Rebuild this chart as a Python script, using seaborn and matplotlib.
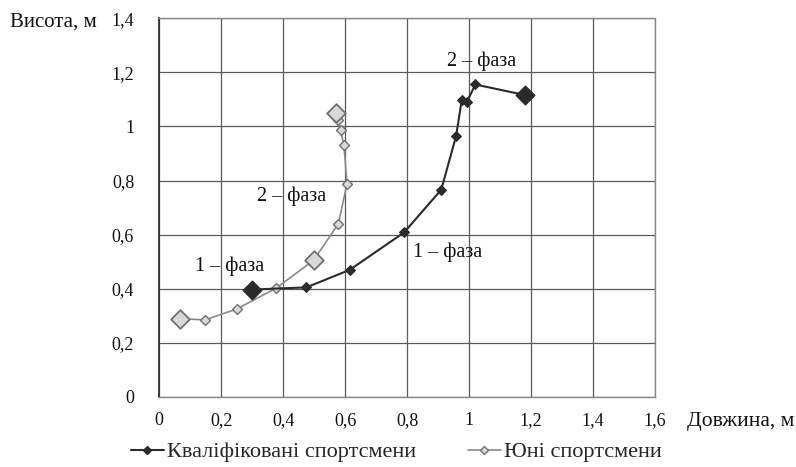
import matplotlib
matplotlib.use("Agg")
import matplotlib.pyplot as plt
import seaborn as sns
import pandas as pd
from matplotlib.lines import Line2D

# ---- data ----
qual_x = [0.30, 0.475, 0.615, 0.79, 0.91, 0.958, 0.976, 0.993, 1.02, 1.18]
qual_y = [0.397, 0.405, 0.47, 0.608, 0.766, 0.965, 1.097, 1.091, 1.155, 1.116]
qual_big = [0, 9]

young_x = [0.068, 0.148, 0.25, 0.377, 0.498, 0.578, 0.606, 0.596, 0.585, 0.578, 0.572]
young_y = [0.289, 0.285, 0.325, 0.402, 0.505, 0.64, 0.788, 0.93, 0.985, 1.025, 1.05]
young_big = [0, 4, 10]

x_ticks = [0, 0.2, 0.4, 0.6, 0.8, 1.0, 1.2, 1.4, 1.6]
x_labels = ["0", "0,2", "0,4", "0,6", "0,8", "1", "1,2", "1,4", "1,6"]
y_ticks = [0, 0.2, 0.4, 0.6, 0.8, 1.0, 1.2, 1.4]
y_labels = ["0", "0,2", "0,4", "0,6", "0,8", "1", "1,2", "1,4"]

series_names = ["Кваліфіковані спортсмени", "Юні спортсмени"]
annotations = [
    ("1 – фаза", 0.115, 0.483),
    ("2 – фаза", 0.315, 0.741),
    ("1 – фаза", 0.82, 0.534),
    ("2 – фаза", 0.928, 1.24),
]

# ---- style ----
sns.set_theme(style="white")
plt.rcParams["font.serif"] = ["Liberation Serif", "DejaVu Serif"]
plt.rcParams["font.family"] = ["serif"]

fig = plt.figure(figsize=(7.96, 4.67), dpi=100)
ax = fig.add_axes([0.2, 0.15, 0.623, 0.811])

q_col = "#2b2b2b"
y_line = "#8a8a8a"
y_face = "#d8d8d8"
y_edge = "#707070"

df_y = pd.DataFrame({"x": young_x, "y": young_y})
df_q = pd.DataFrame({"x": qual_x, "y": qual_y})

sns.lineplot(data=df_y, x="x", y="y", sort=False, estimator=None, ax=ax,
             color=y_line, lw=1.2, marker="D", markersize=5,
             markerfacecolor=y_face, markeredgecolor=y_edge, markeredgewidth=1)
sns.lineplot(data=df_q, x="x", y="y", sort=False, estimator=None, ax=ax,
             color=q_col, lw=1.5, marker="D", markersize=5,
             markerfacecolor=q_col, markeredgecolor=q_col)

sns.scatterplot(data=df_y.iloc[young_big], x="x", y="y", ax=ax, marker="D",
                s=90, color=y_face, edgecolor=y_edge, linewidth=1.3, zorder=5)
sns.scatterplot(data=df_q.iloc[qual_big], x="x", y="y", ax=ax, marker="D",
                s=90, color=q_col, edgecolor=q_col, linewidth=1, zorder=5)

ax.set_xlim(0, 1.6)
ax.set_ylim(0, 1.4)
ax.set_xticks(x_ticks)
ax.set_xticklabels(x_labels)
ax.set_yticks(y_ticks)
ax.set_yticklabels(y_labels)
ax.set_xlabel("")
ax.set_ylabel("")
ax.tick_params(axis="both", labelsize=13, colors="#111", length=4,
               width=1, direction="out")
ax.tick_params(axis="y", pad=14)
ax.tick_params(axis="x", pad=7)
ax.grid(True, color="#5a5a5a", lw=0.9)
ax.set_axisbelow(True)

for side in ["top", "right", "bottom"]:
    ax.spines[side].set_color("#888")
    ax.spines[side].set_linestyle((0, (2, 1)))
    ax.spines[side].set_linewidth(1)
ax.spines["left"].set_color("#333")
ax.spines["left"].set_linewidth(1.3)

for txt, tx, ty in annotations:
    ax.text(tx, ty, txt, fontsize=14.5, color="#111", va="center", ha="left")

fig.text(0.012, 0.953, "Висота, м", fontsize=15, color="#111", va="center", ha="left")
ax.text(1.065, -0.065, "Довжина, м", transform=ax.transAxes, fontsize=15.5,
        color="#111", va="center", ha="left")

handles = [
    Line2D([0], [0], color=q_col, lw=1.5, marker="D", markersize=4,
           markerfacecolor=q_col, markeredgecolor=q_col),
    Line2D([0], [0], color=y_line, lw=1.2, marker="D", markersize=4,
           markerfacecolor=y_face, markeredgecolor=y_edge),
]
fig.legend(handles, series_names, loc="center", bbox_to_anchor=(0.498, 0.032),
           ncol=2, frameon=False, fontsize=16, handlelength=1.5,
           handletextpad=0.15, columnspacing=2.3)

fig.savefig("out.png", dpi=100)
